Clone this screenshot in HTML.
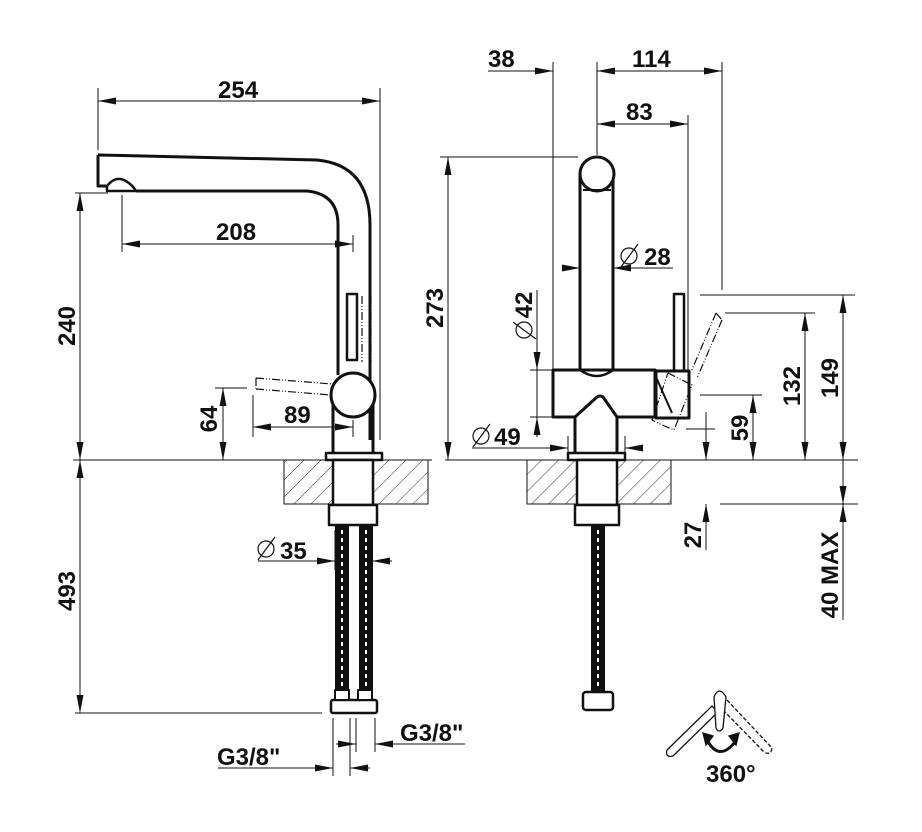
<!DOCTYPE html>
<html><head><meta charset="utf-8"><style>
html,body{margin:0;padding:0;background:#fff;}
svg{display:block;}
text{font-family:"Liberation Sans",sans-serif;font-weight:bold;font-size:24px;fill:#111;}
</style></head><body>
<svg width="922" height="832" viewBox="0 0 922 832" xmlns="http://www.w3.org/2000/svg">
<defs>
<marker id="a" markerUnits="userSpaceOnUse" markerWidth="18" markerHeight="7" refX="18" refY="3.5" orient="auto-start-reverse"><path d="M0,0 L18,3.5 L0,7 z" fill="#111"/></marker>
<pattern id="h" patternUnits="userSpaceOnUse" width="12" height="12" patternTransform="rotate(45)"><line x1="0" y1="0" x2="0" y2="12" stroke="#333" stroke-width="1"/></pattern>
</defs>
<g stroke="#111" stroke-width="1" fill="none">
<line x1="73" y1="460" x2="432" y2="460"/>
<line x1="445" y1="460" x2="858" y2="460"/>
<rect x="284" y="460" width="144" height="44" fill="url(#h)"/>
<rect x="527" y="460" width="144" height="44" fill="url(#h)"/>
<line x1="720" y1="504" x2="858" y2="504"/>
<line x1="98" y1="88" x2="98" y2="150"/>
<line x1="380" y1="88" x2="380" y2="440"/>
<line x1="98" y1="101" x2="380" y2="101" marker-start="url(#a)" marker-end="url(#a)"/>
<line x1="122" y1="195" x2="122" y2="252"/>
<line x1="353" y1="235" x2="353" y2="252"/>
<line x1="122" y1="244" x2="353" y2="244" marker-start="url(#a)" marker-end="url(#a)"/>
<line x1="75" y1="193" x2="108" y2="193"/>
<line x1="80" y1="193" x2="80" y2="460" marker-start="url(#a)" marker-end="url(#a)"/>
<line x1="80" y1="460" x2="80" y2="713" marker-start="url(#a)" marker-end="url(#a)"/>
<line x1="75" y1="713" x2="322" y2="713"/>
<line x1="215" y1="388" x2="247" y2="388"/>
<line x1="223" y1="388" x2="223" y2="460" marker-start="url(#a)" marker-end="url(#a)"/>
<line x1="253" y1="395" x2="253" y2="437"/>
<line x1="353" y1="420" x2="353" y2="437"/>
<line x1="253" y1="427" x2="353" y2="427" marker-start="url(#a)" marker-end="url(#a)"/>
<line x1="440" y1="157" x2="578" y2="157"/>
<line x1="448" y1="157" x2="448" y2="460" marker-start="url(#a)" marker-end="url(#a)"/>
<line x1="258" y1="561" x2="335" y2="561" marker-end="url(#a)"/>
<line x1="392" y1="561" x2="372" y2="561" marker-end="url(#a)"/>
<line x1="335" y1="530" x2="335" y2="570"/><line x1="372" y1="530" x2="372" y2="570"/>
<line x1="333" y1="718" x2="333" y2="776"/>
<line x1="350" y1="718" x2="350" y2="776"/>
<line x1="356" y1="718" x2="356" y2="752"/>
<line x1="375" y1="718" x2="375" y2="752"/>
<line x1="218" y1="768" x2="333" y2="768" marker-end="url(#a)"/>
<line x1="370" y1="768" x2="350" y2="768" marker-end="url(#a)"/>
<line x1="336" y1="744" x2="356" y2="744" marker-end="url(#a)"/>
<line x1="465" y1="744" x2="375" y2="744" marker-end="url(#a)"/>
<line x1="553" y1="62" x2="553" y2="370"/>
<line x1="597" y1="62" x2="597" y2="155"/>
<line x1="722" y1="62" x2="722" y2="290"/>
<line x1="688" y1="115" x2="688" y2="370"/>
<line x1="488" y1="71" x2="553" y2="71" marker-end="url(#a)"/>
<line x1="597" y1="71" x2="722" y2="71" marker-start="url(#a)" marker-end="url(#a)"/>
<line x1="597" y1="124" x2="688" y2="124" marker-start="url(#a)" marker-end="url(#a)"/>
<line x1="562" y1="268" x2="580" y2="268" marker-end="url(#a)"/>
<line x1="673" y1="268" x2="613" y2="268" marker-end="url(#a)"/>
<line x1="580" y1="268" x2="613" y2="268"/>
<line x1="537" y1="290" x2="537" y2="370" marker-end="url(#a)"/>
<line x1="537" y1="370" x2="537" y2="417"/>
<line x1="537" y1="437" x2="537" y2="417" marker-end="url(#a)"/>
<line x1="530" y1="370" x2="553" y2="370"/>
<line x1="530" y1="417" x2="553" y2="417"/>
<line x1="472" y1="448" x2="568" y2="448" marker-end="url(#a)"/>
<line x1="643" y1="448" x2="625" y2="448" marker-end="url(#a)"/>
<line x1="568" y1="436" x2="568" y2="453"/><line x1="625" y1="436" x2="625" y2="453"/>
<line x1="700" y1="295" x2="855" y2="295"/>
<line x1="725" y1="313" x2="815" y2="313"/>
<line x1="700" y1="395" x2="762" y2="395"/>
<line x1="843" y1="295" x2="843" y2="460" marker-start="url(#a)" marker-end="url(#a)"/>
<line x1="805" y1="313" x2="805" y2="460" marker-start="url(#a)" marker-end="url(#a)"/>
<line x1="753" y1="395" x2="753" y2="460" marker-start="url(#a)" marker-end="url(#a)"/>
<line x1="686" y1="429" x2="715" y2="429"/>
<line x1="706" y1="412" x2="706" y2="460" marker-end="url(#a)"/>
<line x1="706" y1="550" x2="706" y2="504" marker-end="url(#a)"/>
<line x1="843" y1="460" x2="843" y2="504" marker-end="url(#a)"/>
<line x1="843" y1="620" x2="843" y2="504" marker-end="url(#a)"/>
</g>
<g stroke="#111" stroke-width="1.2" fill="none">
<circle cx="266" cy="549" r="8"/><line x1="258" y1="560" x2="275" y2="537"/>
<circle cx="629" cy="256" r="8"/><line x1="621" y1="267" x2="638" y2="244"/>
<circle cx="481" cy="436" r="8"/><line x1="473" y1="447" x2="490" y2="424"/>
<circle cx="524" cy="330" r="8"/><line x1="513" y1="322" x2="536" y2="339"/>
</g>
<!-- LEFT FAUCET -->
<g stroke="#111" stroke-width="3" fill="none" stroke-linejoin="round">
<path d="M98,155 L317,160 Q370,165 370,225 L370,440"/>
<path d="M98,155 L98,186 L107,186"/>
<path d="M136,191 L307,191 Q338,194 338,225 L338,375"/>
<path d="M107,186 Q115,176 124,180 Q132,184 136,191 L107,191 z" stroke-width="2.5" fill="#fff"/>
<rect x="347" y="294" width="10" height="66" stroke-width="2.5" fill="#fff"/>
<path d="M333,405 L333,455 M373,405 L373,455"/>
<circle cx="353" cy="395" r="22" fill="#fff"/>
<rect x="326" y="453" width="56" height="7" stroke-width="2.5" fill="#fff"/>
<rect x="333" y="460" width="40" height="45" stroke-width="2.5" fill="#fff"/>
<rect x="329" y="505" width="48" height="20" stroke-width="2.5" fill="#fff"/>
<rect x="336" y="525" width="12" height="168" stroke-width="2" fill="#111"/>
<rect x="360" y="525" width="12" height="168" stroke-width="2" fill="#111"/>
<rect x="331" y="700" width="46" height="13" rx="2" stroke-width="2.5" fill="#fff"/>
<rect x="335" y="690" width="14" height="10" stroke-width="2" fill="#fff"/>
<rect x="358" y="690" width="14" height="10" stroke-width="2" fill="#fff"/>
</g>
<g stroke="#111" stroke-width="1.2" fill="none" stroke-dasharray="8,2,1,2,1,2">
<path d="M256,378 L332,384 M256,389 L331,395 M256,378 L256,389"/>
<path d="M362,296 L362,362 M371,296 L371,362"/>
</g>
<g stroke="#fff" stroke-width="2" stroke-dasharray="4,4">
<line x1="342" y1="530" x2="342" y2="688"/><line x1="366" y1="530" x2="366" y2="688"/>
<line x1="598" y1="530" x2="598" y2="688"/>
</g>
<!-- RIGHT FAUCET -->
<g stroke="#111" stroke-width="3" fill="#fff" stroke-linejoin="round">
<path d="M580,175 L580,370 L613,370 L613,175"/>
<circle cx="597" cy="174" r="17"/>
<path d="M583,190 L611,190" stroke-width="2"/>
<rect x="553" y="370" width="102" height="47"/>
<path d="M580,370 Q597,382 613,370" stroke-width="2.5" fill="none"/>
<path d="M575,453 L575,417 L597,397 Q600,395 603,397 L617,417 L617,453" stroke-width="3"/>
<rect x="568" y="453" width="57" height="7" stroke-width="2.5"/>
<rect x="577" y="460" width="40" height="45" stroke-width="2.5"/>
<rect x="575" y="505" width="44" height="20" stroke-width="2.5"/>
<rect x="592" y="525" width="12" height="168" stroke-width="2" fill="#111"/>
<rect x="583" y="692" width="30" height="18" rx="3" stroke-width="2.5"/>
<rect x="674" y="294" width="10" height="77" stroke-width="2.5"/>
<rect x="656" y="371" width="33" height="47" stroke-width="3"/>
<path d="M656,377 L672,413" stroke-width="2" fill="none"/>
</g>
<g stroke="#fff" stroke-width="2" stroke-dasharray="4,4"><line x1="598" y1="530" x2="598" y2="688"/></g>
<g stroke="#111" stroke-width="1.2" fill="none" stroke-dasharray="8,2,1,2,1,2">
<path d="M716,313 L691,372 M722,320 L697,378 M716,313 L722,320"/>
<path d="M668,373 L692,385 L674,430 L660,424 L652,420 L668,373"/>
</g>
<g stroke="#111" stroke-width="1.3" fill="#fff">
<path d="M667,750 L712,706 L718,712 L673,756 Q665,758 667,750 z"/>
<path d="M727,700 L772,748 Q771,756 764,752 L721,708" stroke-dasharray="4,2"/>
<path d="M714,697 Q719,685 726,697 L723,728 Q719,734 716,728 z"/>
<path d="M707,740 Q719,762 735,742" fill="none" stroke-width="3"/>
<path d="M703,733 L713,736 L706,745 z M739,733 L729,736 L736,745 z" fill="#111"/>
</g>
<text x="218" y="98">254</text>
<text x="216" y="240">208</text>
<text x="284" y="423">89</text>
<text x="280" y="559">35</text>
<text x="217" y="765">G3/8"</text>
<text x="400" y="741">G3/8"</text>
<text x="488" y="67">38</text>
<text x="632" y="67">114</text>
<text x="626" y="120">83</text>
<text x="644" y="265">28</text>
<text x="494" y="445">49</text>
<text x="706" y="782">360°</text>
<text transform="translate(75,326) rotate(-90)" text-anchor="middle">240</text>
<text transform="translate(75,591) rotate(-90)" text-anchor="middle">493</text>
<text transform="translate(217,419) rotate(-90)" text-anchor="middle">64</text>
<text transform="translate(443,308) rotate(-90)" text-anchor="middle">273</text>
<text transform="translate(532,305) rotate(-90)" text-anchor="middle">42</text>
<text transform="translate(800,386) rotate(-90)" text-anchor="middle">132</text>
<text transform="translate(838,378) rotate(-90)" text-anchor="middle">149</text>
<text transform="translate(748,428) rotate(-90)" text-anchor="middle">59</text>
<text transform="translate(701,535) rotate(-90)" text-anchor="middle">27</text>
<text transform="translate(838,575) rotate(-90)" text-anchor="middle">40 MAX</text>
</svg>
</body></html>
